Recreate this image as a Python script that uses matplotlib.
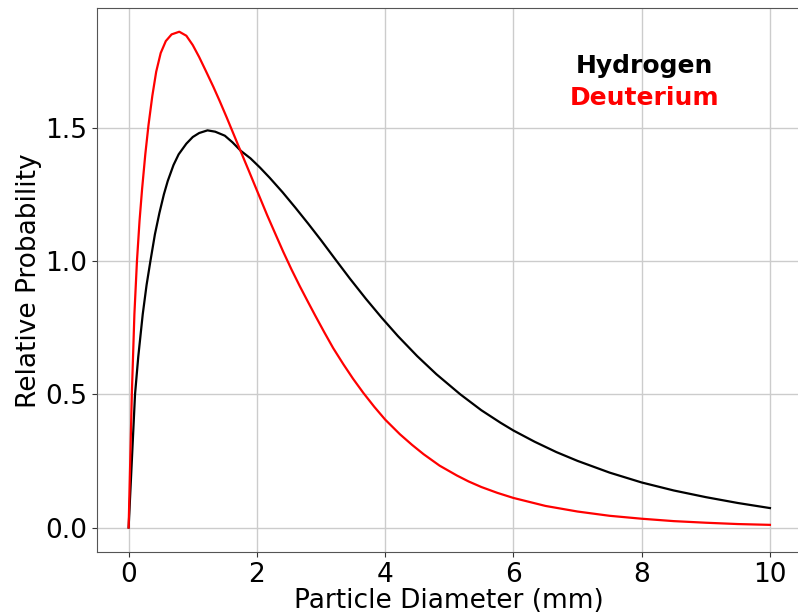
import matplotlib
matplotlib.use("Agg")
import matplotlib.pyplot as plt

# Data
hydrogen_x = [0, 0.1, 0.15, 0.22, 0.28, 0.34, 0.41, 0.48, 0.55, 0.61, 0.7, 0.78, 0.9, 1.0, 1.1,
              1.23, 1.35, 1.5, 1.62, 1.75, 1.9, 2.05, 2.2, 2.4, 2.6, 2.8, 3.0, 3.23, 3.45, 3.7,
              3.95, 4.2, 4.5, 4.8, 5.17, 5.5, 5.8, 6.0, 6.33, 6.67, 7.0, 7.5, 8.0, 8.5, 9.0,
              9.5, 10]
hydrogen_y = [0, 0.50, 0.64, 0.80, 0.91, 1.00, 1.10, 1.18, 1.25, 1.30, 1.36, 1.40, 1.44, 1.465,
              1.48, 1.49, 1.485, 1.47, 1.445, 1.413, 1.385, 1.35, 1.312, 1.258, 1.20, 1.14, 1.078,
              1.004, 0.934, 0.858, 0.786, 0.718, 0.643, 0.575, 0.50, 0.44, 0.393, 0.364, 0.322,
              0.283, 0.25, 0.206, 0.169, 0.139, 0.114, 0.092, 0.073]

deuterium_x = [0, 0.05, 0.09, 0.13, 0.17, 0.21, 0.26, 0.31, 0.37, 0.43, 0.5, 0.58, 0.67, 0.79,
               0.9, 1.0, 1.1, 1.2, 1.32, 1.42, 1.53, 1.64, 1.75, 1.88, 2.0, 2.16, 2.3, 2.41,
               2.54, 2.67, 2.8, 2.91, 3.05, 3.19, 3.35, 3.5, 3.66, 3.83, 4.0, 4.23, 4.42, 4.6,
               4.85, 5.12, 5.3, 5.5, 5.75, 6.0, 6.5, 7.0, 7.5, 8.0, 8.5, 9.0, 9.5, 10]
deuterium_y = [0, 0.5, 0.8, 1.0, 1.15, 1.27, 1.40, 1.51, 1.62, 1.71, 1.78, 1.825, 1.85, 1.86,
               1.845, 1.81, 1.765, 1.715, 1.654, 1.60, 1.538, 1.474, 1.41, 1.335, 1.265, 1.172,
               1.095, 1.035, 0.968, 0.905, 0.845, 0.795, 0.733, 0.673, 0.612, 0.558, 0.505,
               0.453, 0.405, 0.35, 0.31, 0.275, 0.232, 0.195, 0.173, 0.152, 0.13, 0.111, 0.081,
               0.06, 0.044, 0.033, 0.024, 0.018, 0.013, 0.010]

x_ticks = [0, 2, 4, 6, 8, 10]
y_ticks = [0.0, 0.5, 1.0, 1.5]

fig = plt.figure(figsize=(7.98, 6.13), dpi=100)
ax = fig.add_axes([0.121, 0.099, 0.884, 0.8875])

ax.plot(hydrogen_x, hydrogen_y, color="black", lw=1.6, zorder=3)
ax.plot(deuterium_x, deuterium_y, color="red", lw=1.6, zorder=3)

ax.set_xlim(-0.5, 10.5)
ax.set_ylim(-0.093, 1.948)
ax.set_xticks(x_ticks)
ax.set_yticks(y_ticks)
ax.set_xticklabels([str(t) for t in x_ticks])
ax.set_yticklabels([f"{t:.1f}" for t in y_ticks])
ax.tick_params(labelsize=19, colors="#333333", labelcolor="black")
ax.grid(True, color="#cccccc", lw=1.0)
ax.set_axisbelow(True)
for s in ax.spines.values():
    s.set_color("#555555")

ax.set_xlabel("Particle Diameter (mm)", fontsize=19, labelpad=0)
ax.set_ylabel("Relative Probability", fontsize=19, labelpad=2)

ax.text(0.777, 0.894, "Hydrogen", transform=ax.transAxes, ha="center", va="center",
        fontsize=18, fontweight="bold", color="black", family="DejaVu Sans")
ax.text(0.777, 0.835, "Deuterium", transform=ax.transAxes, ha="center", va="center",
        fontsize=18, fontweight="bold", color="red", family="DejaVu Sans")

fig.savefig("out.png", dpi=100)
